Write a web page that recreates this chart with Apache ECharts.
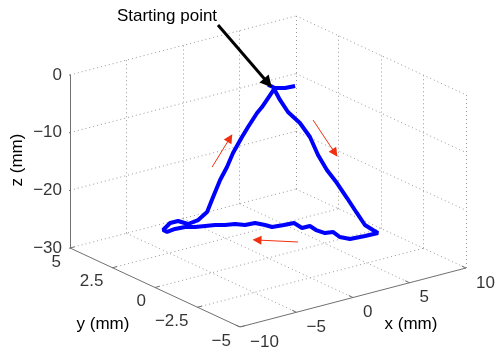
<!DOCTYPE html>
<html>
<head>
<meta charset="utf-8">
<script src="https://cdn.jsdelivr.net/npm/echarts@6/dist/echarts.min.js"></script>
<style>
  html, body { margin: 0; padding: 0; background: #fff; }
  #chart { width: 495px; height: 352px; }
</style>
</head>
<body>
<div id="chart"></div>
<script>
// trajectory (mm)
var trajX = [0, 0.27, 0.61, 1.00, 1.62, 2.12, 2.50, 2.94, 3.44, 3.94, 4.43, 4.83, 5.25, 5.52, 4.79, 3.96, 3.42, 3.05, 2.61, 2.13, 1.81, 1.37, 0.95, 0.39, -0.27, -0.65, -1.19, -1.75, -2.29, -2.84, -3.39, -3.94, -4.49, -5.04, -5.60, -6.04, -6.26, -5.85, -5.40, -4.87, -4.30, -3.78, -3.40, -2.96, -2.53, -2.15, -1.61, -1.24, -0.70, -0.41, 0.08, 0.37, 0.92, 1.48];
var trajY = [0, -0.12, -0.30, -0.51, -0.80, -1.06, -1.28, -1.51, -1.77, -2.03, -2.28, -2.49, -2.68, -2.80, -2.52, -2.19, -1.96, -1.79, -1.62, -1.41, -1.26, -1.09, -0.90, -0.68, -0.42, -0.26, -0.03, 0.19, 0.42, 0.64, 0.86, 1.08, 1.30, 1.53, 1.75, 1.92, 2.01, 1.87, 1.70, 1.47, 1.25, 1.07, 0.97, 0.85, 0.73, 0.63, 0.46, 0.35, 0.18, 0.08, -0.07, -0.16, -0.39, -0.61];
var trajZ = [0, -0.34, -2.51, -4.51, -6.33, -8.66, -11.68, -14.18, -16.34, -18.84, -21.34, -23.34, -24.16, -24.66, -25.19, -25.74, -25.43, -24.60, -24.79, -24.31, -23.65, -24.01, -23.19, -23.55, -23.92, -23.60, -23.29, -23.65, -23.51, -23.70, -23.73, -23.92, -24.12, -24.14, -24.50, -25.03, -24.70, -23.51, -23.15, -23.63, -22.93, -21.56, -19.02, -16.14, -13.93, -11.56, -8.84, -7.14, -4.76, -3.74, -1.70, -0.50, -0.48, -0.12];

// axis ticks
var xTicks = [-10, -5, 0, 5, 10];
var yTicks = [5, 2.5, 0, -2.5, -5];
var zTicks = [0, -10, -20, -30];

// direction arrows (start, end) in mm
var redArrows = [
  [[-3.35, 1.06, -13.97], [-2.27, 0.73, -9.04]],
  [[2.35, -1.09, -5.80], [3.44, -1.65, -11.30]],
  [[1.10, -1.03, -26.38], [-1.14, -0.11, -26.15]]
];
var startArrow = [[-2.53, 1.26, 9.96], [0.0, 0.0, 0.32]];

var FONT = '"Liberation Sans", Arial, sans-serif';

// fixed 3d view: project (x, y, z) onto the hidden 2d plane
function proj(x, y, z) {
  return [(x + 10) * 11.3 + (5 - y) * 17.0,
          (z + 30) * 5.77 + (x + 10) * 2.95 - (5 - y) * 7.9];
}
function seg(a, b) {
  return { coords: [proj(a[0], a[1], a[2]), proj(b[0], b[1], b[2])] };
}
function fmt(v) {
  return String(v).replace('-', '\u2212');
}

var gridSegs = [];
xTicks.slice(1).forEach(function (x) {
  gridSegs.push(seg([x, 5, -30], [x, 5, 0]));
  gridSegs.push(seg([x, 5, -30], [x, -5, -30]));
});
yTicks.slice(1).forEach(function (y) {
  gridSegs.push(seg([10, y, -30], [10, y, 0]));
});
yTicks.slice(0, 4).forEach(function (y) {
  gridSegs.push(seg([-10, y, -30], [10, y, -30]));
});
zTicks.slice(0, 3).forEach(function (z) {
  gridSegs.push(seg([-10, 5, z], [10, 5, z]));
  gridSegs.push(seg([10, 5, z], [10, -5, z]));
});

var axisSegs = [
  seg([-10, 5, -30], [-10, 5, 0]),
  seg([-10, 5, -30], [-10, -5, -30]),
  seg([-10, -5, -30], [10, -5, -30])
];
zTicks.forEach(function (z) { axisSegs.push(seg([-10, 5, z], [-10.4, 5, z])); });
yTicks.forEach(function (y) { axisSegs.push(seg([-10, y, -30], [-9.6, y, -30])); });
xTicks.forEach(function (x) { axisSegs.push(seg([x, -5, -30], [x, -4.75, -30])); });

var trajData = trajX.map(function (x, i) { return proj(x, trajY[i], trajZ[i]); });

function tickLabels(list, fn) {
  return list.map(function (v) {
    var p = fn(v);
    return { value: proj(p[0], p[1], p[2]), name: fmt(v) };
  });
}
var labelStyle = { show: true, formatter: '{b}', color: '#000', fontSize: 17, fontFamily: FONT };

var chart = echarts.init(document.getElementById('chart'));
chart.setOption({
  animation: false,
  backgroundColor: '#fff',
  grid: { left: 70, top: 16, width: 396, height: 311 },
  xAxis: { type: 'value', min: 0, max: 396, show: false },
  yAxis: { type: 'value', min: -79, max: 232, show: false },
  graphic: [
    { type: 'text', x: 167, y: 16, style: { text: 'Starting point', fill: '#000', font: '17px ' + FONT, textAlign: 'center', textVerticalAlign: 'middle' } },
    { type: 'text', x: 17, y: 160, rotation: Math.PI / 2, style: { text: 'z (mm)', fill: '#000', font: '17px ' + FONT, textAlign: 'center', textVerticalAlign: 'middle' } },
    { type: 'text', x: 103, y: 324, style: { text: 'y (mm)', fill: '#000', font: '17px ' + FONT, textAlign: 'center', textVerticalAlign: 'middle' } },
    { type: 'text', x: 411, y: 324, style: { text: 'x (mm)', fill: '#000', font: '17px ' + FONT, textAlign: 'center', textVerticalAlign: 'middle' } }
  ],
  series: [
    {
      type: 'lines', coordinateSystem: 'cartesian2d', silent: true,
      lineStyle: { color: '#9a9a9a', width: 1, type: [1, 3], opacity: 1 },
      data: gridSegs
    },
    {
      type: 'lines', coordinateSystem: 'cartesian2d', silent: true,
      lineStyle: { color: '#707070', width: 1, opacity: 1 },
      data: axisSegs
    },
    {
      type: 'line', silent: true, showSymbol: false, z: 5,
      lineStyle: { color: '#0000ff', width: 4 },
      data: trajData
    },
    {
      type: 'lines', coordinateSystem: 'cartesian2d', silent: true, z: 6,
      symbol: ['none', 'triangle'], symbolSize: [0, 9],
      lineStyle: { color: '#f03010', width: 1, opacity: 1 },
      data: redArrows.map(function (a) { return seg(a[0], a[1]); })
    },
    {
      type: 'lines', coordinateSystem: 'cartesian2d', silent: true, z: 6,
      symbol: ['none', 'triangle'], symbolSize: [0, 12],
      lineStyle: { color: '#000', width: 3, opacity: 1 },
      data: [seg(startArrow[0], startArrow[1])]
    },
    {
      type: 'scatter', silent: true, symbolSize: 0, itemStyle: { color: 'rgba(0,0,0,0)' },
      label: Object.assign({ position: 'left', distance: 8 }, labelStyle),
      data: tickLabels(zTicks, function (z) { return [-10, 5, z]; })
    },
    {
      type: 'scatter', silent: true, symbolSize: 0, itemStyle: { color: 'rgba(0,0,0,0)' },
      label: Object.assign({ position: [-9, 14], align: 'right', verticalAlign: 'middle' }, labelStyle),
      data: tickLabels(yTicks, function (y) { return [-10, y, -30]; })
    },
    {
      type: 'scatter', silent: true, symbolSize: 0, itemStyle: { color: 'rgba(0,0,0,0)' },
      label: Object.assign({ position: [10, 15], align: 'left', verticalAlign: 'middle' }, labelStyle),
      data: tickLabels(xTicks, function (x) { return [x, -5, -30]; })
    }
  ]
});
</script>
</body>
</html>
